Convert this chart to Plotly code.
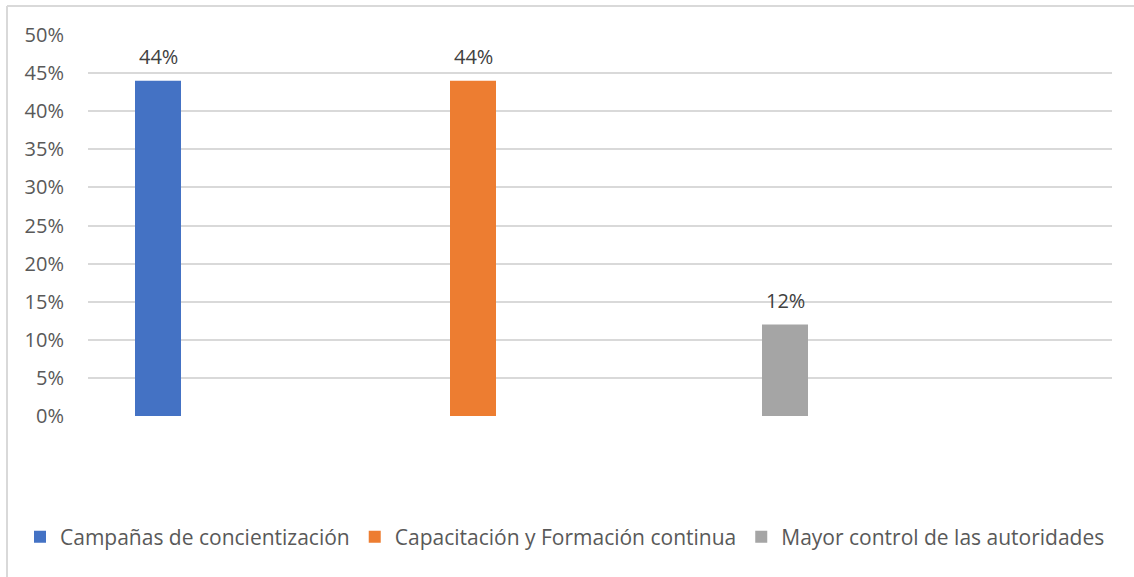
import plotly.graph_objects as go

series_names = ["Campañas de concientización", "Capacitación y Formación continua", "Mayor control de las autoridades"]
series_values = [0.44, 0.44, 0.12]
series_colors = ["#4472C4", "#ED7D31", "#A5A5A5"]
y_ticks = [0.0, 0.05, 0.10, 0.15, 0.20, 0.25, 0.30, 0.35, 0.40, 0.45, 0.50]

W, H = 1134, 577
L, R, T, B = 88, 22, 35, 161
pw, ph = W - L - R, H - T - B

def px_x(p):
    return (p - L) / pw - 0.5

bar_w = 46 / pw
bar_left_px = [135, 450, 762]

FONT = "Open Sans"
fig = go.Figure()
for name, val, col, lp in zip(series_names, series_values, series_colors, bar_left_px):
    off = px_x(lp)
    fig.add_trace(go.Bar(
        x=[0], y=[val], name=name, marker=dict(color=col, line=dict(width=0)),
        offset=off, width=bar_w, hoverinfo="skip",
    ))
    fig.add_annotation(
        x=off + bar_w / 2, y=val, xref="x", yref="y", text=f"{val:.0%}",
        showarrow=False, yanchor="middle", yshift=24,
        font=dict(family=FONT, size=20, color="#404040"),
    )

def pxx(p):
    return (p - L) / pw

def pxy(p):
    return (H - B - p) / ph

fig.add_shape(type="line", xref="paper", yref="paper", x0=pxx(7), x1=pxx(W + 5), y0=pxy(6), y1=pxy(6),
              line=dict(color="#D9D9D9", width=2))
fig.add_shape(type="line", xref="paper", yref="paper", x0=pxx(7), x1=pxx(7), y0=pxy(6), y1=pxy(H + 5),
              line=dict(color="#D9D9D9", width=2))

fig.update_layout(
    width=W, height=H,
    margin=dict(l=L, r=R, t=T, b=B, autoexpand=False),
    paper_bgcolor="white", plot_bgcolor="white",
    barmode="overlay",
    showlegend=True,
    legend=dict(orientation="h", x=pxx(20), xanchor="left", y=pxy(537), yanchor="middle",
                font=dict(family=FONT, size=21, color="#595959"), itemwidth=30,
                traceorder="normal"),
    xaxis=dict(range=[-0.5, 0.5], showticklabels=False, showgrid=False, zeroline=False,
               showline=False, fixedrange=True),
    yaxis=dict(range=[0, 0.5], tickvals=y_ticks, tickformat=".0%", showgrid=True,
               gridcolor="#D9D9D9", gridwidth=2, zeroline=False, showline=False,
               tickfont=dict(family=FONT, size=20, color="#595959"), ticklabelstandoff=23),
)

fig.write_html("out.html", config={"displayModeBar": False},
               post_script="document.body.style.margin='0';")
